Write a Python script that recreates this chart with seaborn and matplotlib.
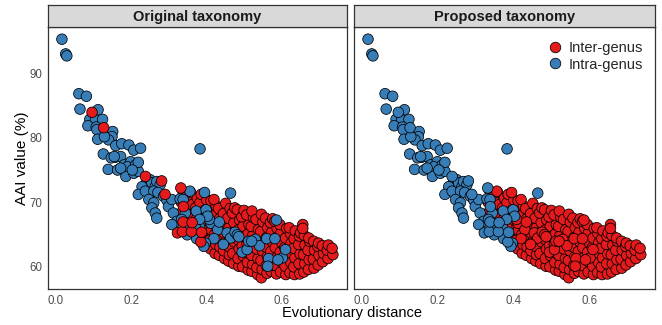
import matplotlib
matplotlib.use('Agg')
import matplotlib.pyplot as plt
from matplotlib.lines import Line2D
import seaborn as sns
import pandas as pd

# pairs that fall inside one genus under both taxonomies (upper-left tail)
tail_dist = [
    0.016, 0.026, 0.029, 0.061, 0.081, 0.064, 0.112, 0.090, 0.105, 0.124,
    0.085, 0.107, 0.109, 0.111, 0.133, 0.151, 0.149, 0.140, 0.129, 0.159,
    0.126, 0.175, 0.194, 0.207, 0.225, 0.158, 0.172, 0.147, 0.155, 0.139,
    0.164, 0.181, 0.199, 0.190, 0.212, 0.186, 0.207, 0.219, 0.219, 0.203,
    0.172, 0.242, 0.250, 0.229, 0.219, 0.238, 0.255, 0.264, 0.268, 0.277,
    0.260, 0.271, 0.247, 0.260, 0.255, 0.264, 0.268, 0.286, 0.295, 0.299,
    0.308, 0.312, 0.321, 0.308, 0.330, 0.344, 0.334, 0.351, 0.349, 0.374,
    0.372, 0.373, 0.399, 0.403, 0.382, 0.397, 0.393, 0.338, 0.383, 0.464,
]
tail_aai = [
    95.4, 93.1, 92.8, 86.9, 86.5, 84.5, 84.4, 82.9, 82.8, 82.9,
    81.9, 81.7, 81.3, 79.8, 80.5, 81.0, 80.2, 79.7, 80.2, 78.8,
    77.5, 79.1, 78.9, 78.1, 78.4, 77.0, 77.1, 76.9, 77.1, 75.1,
    75.0, 75.8, 76.3, 75.5, 75.8, 74.0, 74.5, 74.8, 76.2, 75.0,
    75.3, 73.2, 73.5, 72.4, 71.2, 71.7, 73.0, 72.4, 73.2, 72.7,
    71.7, 71.5, 70.4, 69.9, 69.1, 68.3, 67.5, 70.9, 70.3, 69.3,
    70.4, 68.3, 67.0, 66.5, 70.5, 68.3, 67.3, 65.7, 64.9, 64.3,
    65.9, 68.6, 68.8, 67.8, 67.3, 63.6, 63.1, 70.4, 78.3, 71.4,
]

# pairs from different genera under both taxonomies (main cloud)
cloud_dist = [
    0.336, 0.333, 0.338,
    0.349, 0.351, 0.347,
    0.360, 0.362, 0.358,
    0.374, 0.371, 0.376,
    0.385, 0.388, 0.383, 0.386,
    0.398, 0.396, 0.400, 0.397, 0.401,
    0.411, 0.409, 0.413, 0.410, 0.408, 0.412,
    0.423, 0.425, 0.421, 0.424, 0.422, 0.426, 0.420,
    0.434, 0.436, 0.433, 0.437, 0.435, 0.432,
    0.448, 0.446, 0.450, 0.447, 0.449, 0.445, 0.451,
    0.459, 0.461, 0.458, 0.462, 0.460, 0.457, 0.463,
    0.472, 0.470, 0.474, 0.471, 0.473, 0.469, 0.475,
    0.486, 0.484, 0.487, 0.483, 0.485, 0.488, 0.482,
    0.496, 0.498, 0.495, 0.499, 0.497, 0.494, 0.500,
    0.511, 0.509, 0.512, 0.508, 0.510, 0.513, 0.507,
    0.521, 0.523, 0.520, 0.524, 0.522, 0.519, 0.525, 0.521,
    0.536, 0.534, 0.537, 0.533, 0.535, 0.538, 0.532,
    0.546, 0.548, 0.545, 0.549, 0.547, 0.544, 0.550, 0.546,
    0.561, 0.559, 0.562, 0.558, 0.560, 0.563, 0.557,
    0.572, 0.574, 0.571, 0.575, 0.573, 0.570, 0.576,
    0.586, 0.584, 0.587, 0.583, 0.585, 0.588, 0.582,
    0.597, 0.599, 0.596, 0.600, 0.598, 0.595,
    0.611, 0.609, 0.612, 0.608, 0.610, 0.613,
    0.622, 0.624, 0.621, 0.625, 0.623, 0.620,
    0.634, 0.632, 0.635, 0.631, 0.633, 0.636,
    0.648, 0.646, 0.649, 0.645, 0.647, 0.650,
    0.659, 0.661, 0.658, 0.662, 0.660, 0.656, 0.656,
    0.671, 0.673, 0.670, 0.674, 0.672,
    0.686, 0.684, 0.687, 0.685,
    0.697, 0.699, 0.696, 0.698,
    0.709, 0.711, 0.708,
    0.723, 0.721, 0.724,
    0.736, 0.734,
]
cloud_aai = [
    68.5, 70.0, 71.6,
    67.6, 69.2, 70.8,
    67.9, 69.6, 71.5,
    67.4, 69.1, 70.6,
    66.8, 68.4, 69.9, 71.2,
    64.1, 65.6, 67.2, 68.8, 70.3,
    62.7, 64.1, 65.6, 67.0, 68.7, 70.2,
    62.0, 63.4, 64.9, 66.4, 67.9, 69.4, 70.4,
    61.7, 63.0, 64.4, 65.9, 67.4, 69.0,
    61.2, 62.4, 63.8, 65.2, 66.7, 68.2, 69.8,
    60.8, 61.8, 63.1, 64.5, 66.0, 67.5, 69.0,
    60.4, 62.0, 63.8, 65.3, 66.8, 68.3, 69.1,
    60.0, 61.2, 62.7, 64.2, 65.7, 67.2, 68.8,
    59.9, 61.6, 63.2, 64.7, 66.2, 67.7, 68.7,
    59.4, 60.6, 62.0, 63.5, 65.0, 66.5, 68.0,
    59.2, 60.3, 61.7, 63.2, 64.7, 66.2, 67.6, 68.6,
    58.7, 59.8, 61.2, 62.7, 64.2, 65.7, 67.3,
    58.2, 59.5, 60.9, 62.4, 63.9, 65.4, 66.9, 68.1,
    58.9, 60.1, 61.5, 63.0, 64.5, 66.0, 67.5,
    59.2, 60.8, 62.3, 63.8, 65.3, 66.8, 67.4,
    58.8, 60.1, 61.4, 62.9, 64.4, 65.9, 67.0,
    59.1, 60.7, 62.2, 63.7, 65.2, 66.5,
    58.7, 60.0, 61.4, 62.9, 64.4, 65.9,
    59.0, 60.6, 62.1, 63.6, 65.1, 66.0,
    58.7, 59.9, 61.3, 62.8, 64.3, 65.5,
    58.8, 60.4, 61.9, 63.4, 64.7, 65.2,
    59.1, 60.4, 61.8, 63.3, 64.8, 66.5, 65.9,
    59.5, 61.0, 62.5, 63.9, 64.4,
    59.7, 61.1, 62.5, 63.9,
    60.2, 61.7, 63.1, 63.6,
    60.7, 62.0, 63.2,
    61.2, 62.5, 63.3,
    61.8, 62.8,
]

# intra-genus in the original taxonomy, inter-genus in the proposed one
shift_dist = [
    0.356, 0.395, 0.377, 0.382, 0.412, 0.408, 0.430, 0.434, 0.455, 0.464,
    0.476, 0.482, 0.486, 0.495, 0.508, 0.512, 0.530, 0.541, 0.560, 0.582,
    0.586, 0.565, 0.563, 0.602, 0.420, 0.445, 0.520, 0.377, 0.610, 0.590,
]
shift_aai = [
    71.7, 71.5, 67.0, 66.1, 66.7, 67.3, 65.7, 66.9, 65.2, 64.4,
    65.3, 64.9, 64.6, 62.2, 62.6, 63.9, 64.2, 63.2, 64.3, 64.3,
    67.2, 61.2, 60.0, 61.3, 64.3, 63.4, 63.9, 65.2, 62.6, 61.0,
]

# inter-genus in the original taxonomy, intra-genus in the proposed one
merge_dist = [
    0.096, 0.127, 0.238, 0.281, 0.290, 0.332, 0.339, 0.323, 0.336, 0.338,
    0.360, 0.362, 0.385, 0.387,
]
merge_aai = [
    84.0, 81.6, 74.0, 73.3, 71.2, 72.2, 69.3, 65.2, 65.4, 66.9,
    65.4, 66.8, 63.8, 65.3,
]

INTER = 'Inter-genus'
INTRA = 'Intra-genus'
palette = {INTER: '#E41A1C', INTRA: '#377EB8'}

# draw order: cloud first, then the moved pairs on top
dist = cloud_dist + shift_dist + tail_dist + merge_dist
aai = cloud_aai + shift_aai + tail_aai + merge_aai
orig_group = ([INTER] * len(cloud_dist) + [INTRA] * len(shift_dist)
              + [INTRA] * len(tail_dist) + [INTER] * len(merge_dist))
prop_group = ([INTER] * len(cloud_dist) + [INTER] * len(shift_dist)
              + [INTRA] * len(tail_dist) + [INTRA] * len(merge_dist))

df = pd.DataFrame({'dist': dist, 'aai': aai,
                   'Original taxonomy': orig_group,
                   'Proposed taxonomy': prop_group})

sns.set_style('white')
plt.rcParams['font.family'] = ['Liberation Sans', 'DejaVu Sans']

W, H = 662, 325
fig = plt.figure(figsize=(W / 100, H / 100), dpi=100)

panels = [('Original taxonomy', 48, 299), ('Proposed taxonomy', 354, 301)]
axes = []
for i, (title, left, width) in enumerate(panels):
    ax = fig.add_axes([left / W, 36 / H, width / W, 262 / H])
    sns.scatterplot(data=df, x='dist', y='aai', hue=title, palette=palette,
                    s=58, edgecolor='black', linewidth=0.55, alpha=1,
                    legend=False, ax=ax)
    ax.set_xlim(-0.021, 0.7735)
    ax.set_ylim(56.45, 97.3)
    ax.set_xticks([0.0, 0.2, 0.4, 0.6])
    ax.set_xticklabels(['0.0', '0.2', '0.4', '0.6'])
    ax.set_xlabel('')
    ax.set_ylabel('')
    ax.tick_params(axis='both', length=2.5, width=0.6, color='#333333',
                   labelsize=8.3, labelcolor='#4D4D4D', pad=1.5)
    if i == 0:
        ax.set_yticks([60, 70, 80, 90])
    else:
        ax.set_yticks([])
    for sp in ax.spines.values():
        sp.set_color('#333333')
        sp.set_linewidth(0.9)

    # facet strip
    strip = fig.add_axes([left / W, 298 / H, width / W, 22 / H])
    strip.set_facecolor('#D9D9D9')
    strip.set_xticks([])
    strip.set_yticks([])
    for sp in strip.spines.values():
        sp.set_color('#333333')
        sp.set_linewidth(0.9)
    strip.text(0.5, 0.45, title, ha='center', va='center', fontsize=10.5,
               fontweight='bold', color='#1A1A1A', transform=strip.transAxes)
    axes.append(ax)

axes[0].set_ylabel('AAI value (%)', fontsize=11, color='black', labelpad=0.5)
fig.text(352 / W, 12 / H, 'Evolutionary distance', ha='center', va='center',
         fontsize=10.5, color='black')

handles = [Line2D([], [], marker='o', linestyle='', markersize=7.6,
                  markerfacecolor=palette[k], markeredgecolor='black',
                  markeredgewidth=0.55) for k in (INTER, INTRA)]
axes[1].legend(handles, [INTER, INTRA], loc='upper left',
               bbox_to_anchor=(0.645, 0.948), frameon=False, fontsize=10.5,
               handlelength=1.0, handletextpad=0.4, labelspacing=0.2,
               borderpad=0, borderaxespad=0)

plt.savefig('out.png', dpi=100)
plt.close()
